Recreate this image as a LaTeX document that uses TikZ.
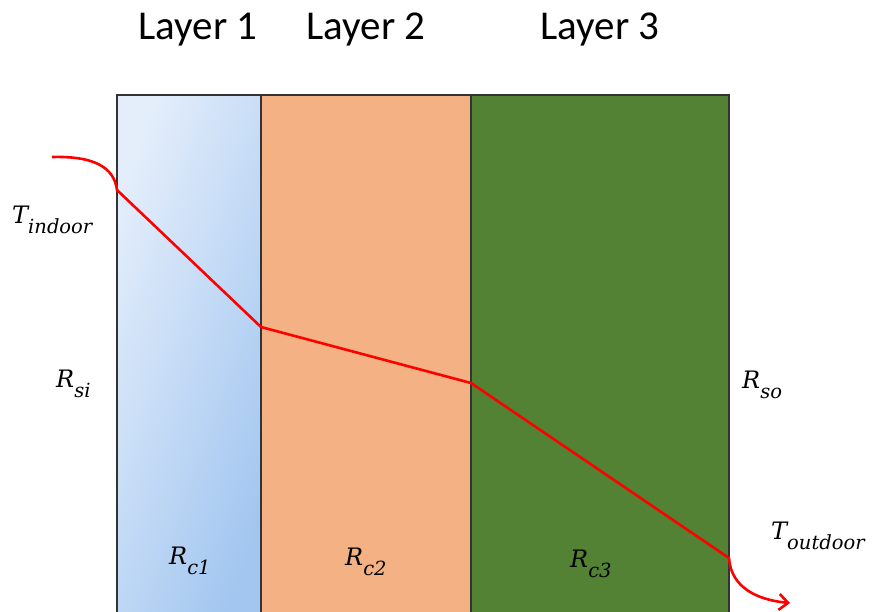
\documentclass[tikz,border=0pt]{standalone}
\usepackage{fontspec}
\setmainfont{Carlito}
\newfontfamily\cam{DejaVu Serif}
\usetikzlibrary{arrows.meta}
\newcommand\lblsub[2]{{\cam\itshape\fontsize{24}{28}\selectfont #1\raisebox{-0.42em}{\fontsize{19.5}{22}\selectfont #2}}}
\definecolor{lyrA}{HTML}{E4EEFB}
\definecolor{lyrAb}{HTML}{A2C6F0}
\definecolor{lyrB}{HTML}{F4B183}
\definecolor{lyrC}{HTML}{548235}
\definecolor{edge}{HTML}{333333}
\tikzset{
  layerbox/.style={draw=edge, line width=1.5pt, inner sep=0pt, outer sep=0pt, minimum height=525pt},
  layertitle/.style={font=\fontsize{41}{48}\selectfont, anchor=base, inner sep=0pt},
  rlabel/.style={anchor=base west, inner sep=0pt},
  redline/.style={draw=red, line width=2.6pt, line join=round}
}
\begin{document}
\begin{tikzpicture}[x=1pt, y=-1pt]
\useasboundingbox (0,0) rectangle (872,611);
\fill[white] (0,0) rectangle (872,611);
\node[layerbox, minimum width=144pt, left color=lyrA, right color=lyrAb, shading angle=70] (l1) at (189,357.5) {};
\node[layerbox, minimum width=210pt, fill=lyrB] (l2) at (366,357.5) {};
\node[layerbox, minimum width=258pt, fill=lyrC] (l3) at (600,357.5) {};
\node[layertitle] (t1) at (198,39) {Layer 1};
\node[layertitle] (t2) at (366,39) {Layer 2};
\node[layertitle] (t3) at (600,39) {Layer 3};
\node[rlabel] (tin) at (12,223) {\lblsub{T}{indoor}};
\node[rlabel] (rsi) at (56,387) {\lblsub{R}{si}};
\node[rlabel] (rc1) at (169,564) {\lblsub{R}{c1}};
\node[rlabel] (rc2) at (345,565) {\lblsub{R}{c2}};
\node[rlabel] (rc3) at (570,567) {\lblsub{R}{c3}};
\node[rlabel] (rso) at (742,388) {\lblsub{R}{so}};
\node[rlabel] (tout) at (771,539) {\lblsub{T}{outdoor}};
\coordinate (p0) at (52,157);
\coordinate (p1) at (117,190);
\coordinate (p2) at (261,327);
\coordinate (p3) at (471,383);
\coordinate (p4) at (729,558);
\coordinate (p5) at (790,603);
\draw[redline, -{Straight Barb[length=9pt,width=16pt,line width=2.6pt]}] (p0) .. controls (92,156) and (114,166) .. (p1) -- (p2) -- (p3) -- (p4) .. controls (731,588) and (758,600) .. (p5);
\end{tikzpicture}
\end{document}
